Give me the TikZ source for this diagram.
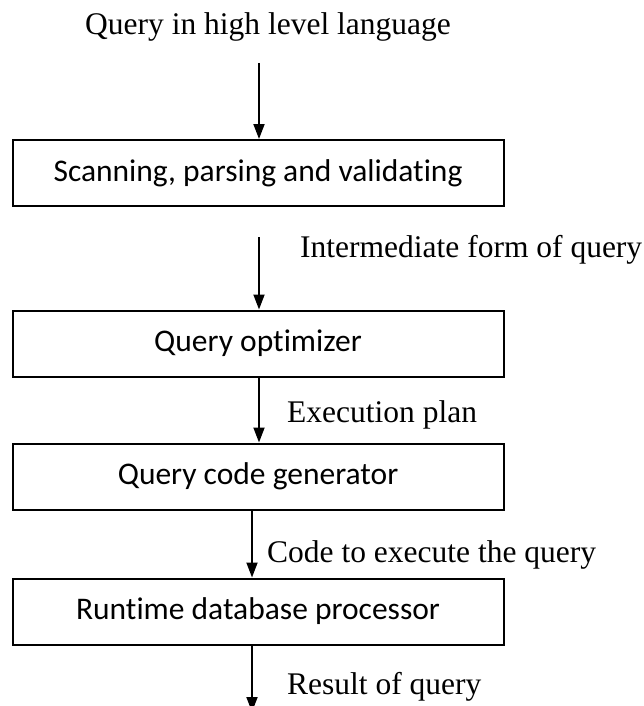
\documentclass[tikz,border=0pt]{standalone}
\usepackage{fontspec}
\setmainfont{Liberation Serif}
\newfontfamily\boxfont[RawFeature=-liga]{Carlito}
\usetikzlibrary{arrows.meta}
\begin{document}
\begin{tikzpicture}[x=1pt,y=-1pt,
  stage/.style={draw, line width=2pt, minimum width=491pt, minimum height=66pt, inner sep=0pt, font=\boxfont\fontsize{31.5}{38}\selectfont},
  lbl/.style={anchor=base west, inner sep=0pt, font=\fontsize{31.5}{38}\selectfont},
  arr/.style={line width=1.8pt, -{Triangle[width=11pt,length=15pt]}}]
\useasboundingbox (0,0) rectangle (644,706);
\node[anchor=base, inner sep=0pt, font=\fontsize{31.5}{38}\selectfont] (title) at (268,35) {Query in high level language};
\node[stage] (b1) at (258,173) {Scanning, parsing and validating};
\node[stage] (b2) at (258,343.5) {Query optimizer};
\node[stage] (b3) at (258,476.5) {Query code generator};
\node[stage] (b4) at (258,611.5) {Runtime database processor};
\coordinate (a1s) at (259,63);
\coordinate (a2s) at (259,237);
\coordinate (end) at (252,712);
\draw[arr] (a1s) -- (a1s |- b1.north);
\draw[arr] (a2s) -- (a2s |- b2.north);
\draw[arr] (b2.south -| a2s) -- (a2s |- b3.north);
\draw[arr] (b3.south -| end) -- (end |- b4.north);
\draw[arr] (b4.south -| end) -- (end);
\node[lbl] (l2) at (300,257) {Intermediate form of query};
\node[lbl] (l3) at (287,422) {Execution plan};
\node[lbl] (l4) at (267,562) {Code to execute the query};
\node[lbl] (l5) at (287,694) {Result of query};
\end{tikzpicture}
\end{document}
